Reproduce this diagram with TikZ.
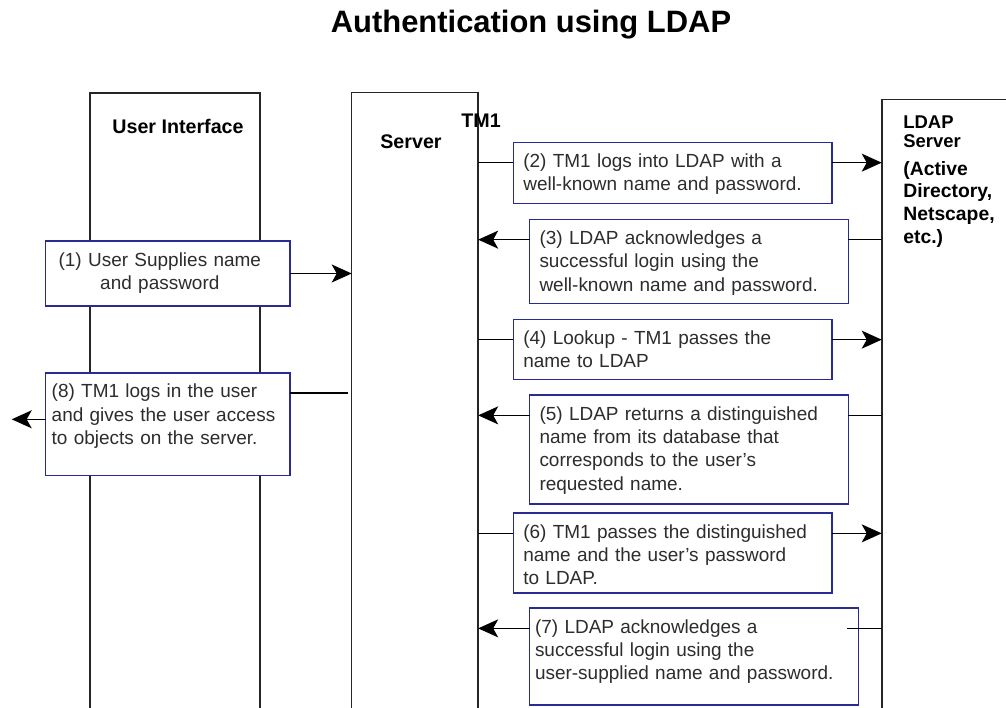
\documentclass[tikz,border=0pt]{standalone}
\usepackage{fontspec}
\setmainfont{Liberation Sans}
\usetikzlibrary{arrows.meta,calc,positioning}
\definecolor{msgblue}{RGB}{42,42,148}
\definecolor{lanegray}{RGB}{38,38,38}
\definecolor{msgtext}{RGB}{45,45,45}
\tikzset{
    lane/.style={rectangle, draw=lanegray, line width=0.9pt, anchor=north west, inner sep=0pt, outer sep=0pt},
    lanelabel/.style={font=\fontsize{11.2}{13}\selectfont\bfseries, inner sep=0pt, anchor=base west},
    msg/.style={rectangle, draw=msgblue, line width=0.9pt, fill=white, anchor=north west, align=left,
        inner ysep=0pt, inner xsep=0.2cm, outer sep=0pt, text width=5.98cm, text height=0.5cm,
        text=msgtext, font=\fontsize{10.8}{13.3}\selectfont},
    flow/.style={->, line width=0.8pt},
    plain/.style={line width=0.8pt}
}

\begin{document}
\begin{tikzpicture}[x=0.02cm, y=-0.02cm, >={Stealth[length=0.4cm,width=0.36cm,inset=0.1cm]}]
  \useasboundingbox (0,0) rectangle (1006,707);

  \node[font=\fontsize{17.6}{20}\selectfont\bfseries, anchor=base, inner sep=0pt] (title) at (531,32) {Authentication using LDAP};

  % lanes
  \node[lane, minimum width=3.4cm, minimum height=13cm]  (ui)   at (90,93)     {};
  \node[lane, minimum width=2.53cm, minimum height=13cm] (srv)  at (351.7,92.7) {};
  \node[lane, minimum width=3cm, minimum height=13cm]    (ldap) at (881.7,99.3) {};

  \node[lanelabel, anchor=base] (uilabel)  at (178,133)   {User Interface};
  \node[lanelabel]              (tmlabel)  at (461,127.5) {TM1};
  \node[lanelabel]              (srvlabel) at (380,148.3) {Server};
  \node[lanelabel, align=left, text width=2cm, font=\fontsize{10.5}{11}\selectfont\bfseries] (ldaplabel) at (903,128.3) {LDAP\\Server};
  \node[lanelabel, align=left, text width=2cm, font=\fontsize{11}{13}\selectfont\bfseries]   (ldapkind)  at (903,175)   {(Active\\Directory,\\Netscape,\\etc.)};

  % messages
  \node[msg, align=center, text width=4.486cm, text depth=0.8cm] (m1) at (45.7,241)
    {\hspace*{-0.32cm}(1) User Supplies name\\\hspace*{-0.32cm}and password};
  \node[msg, text depth=0.72cm] (m2) at (513.3,142.3)
    {(2) TM1 logs into LDAP with a\\well-known name and password.};
  \node[msg, text depth=1.18cm] (m3) at (529.5,219.3)
    {(3) LDAP acknowledges a\\successful login using the\\well-known name and password.};
  \node[msg, text depth=0.7cm] (m4) at (513.3,319.3)
    {(4) Lookup - TM1 passes the\\name to LDAP};
  \node[msg, text depth=1.68cm] (m5) at (529.5,395)
    {(5) LDAP returns a distinguished\\name from its database that\\corresponds to the user's\\requested name.};
  \node[msg, text depth=1.1cm] (m6) at (513.3,513)
    {(6) TM1 passes the distinguished\\name and the user's password\\to LDAP.};
  \node[msg, inner xsep=0.11cm, text width=6.36cm, text depth=1.44cm] (m7) at (529.5,608)
    {(7) LDAP acknowledges a\\successful login using the\\user-supplied name and password.};
  \node[msg, inner xsep=0.12cm, text width=4.646cm, text depth=1.56cm] (m8) at (45.7,372.7)
    {(8) TM1 logs in the user\\and gives the user access\\to objects on the server.};

  % connectors
  \draw[flow]  (m1.east) -- (m1.east -| srv.west);
  \draw[plain] (srv.east |- m2.mid west) -- (m2.mid west);
  \draw[flow]  (m2.mid east) -- (m2.mid east -| ldap.west);
  \draw[plain] (ldap.west |- m3.mid east) -- (m3.mid east);
  \draw[flow]  (m3.mid west) -- (m3.mid west -| srv.east);
  \draw[plain] (srv.east |- m4.mid west) -- (m4.mid west);
  \draw[flow]  (m4.mid east) -- (m4.mid east -| ldap.west);
  \draw[plain] (ldap.west |- m5.mid east) -- (m5.mid east);
  \draw[flow]  (m5.mid west) -- (m5.mid west -| srv.east);
  \draw[plain] (srv.east |- m6.mid west) -- (m6.mid west);
  \draw[flow]  (m6.mid east) -- (m6.mid east -| ldap.west);
  \draw[plain] (ldap.west |- m7.mid east) -- ([xshift=-0.22cm]m7.mid east);
  \draw[flow]  (m7.mid west) -- (m7.mid west -| srv.east);
  \draw[plain] ([xshift=-0.08cm]srv.west |- m8.mid east) -- (m8.mid east);
  \coordinate (exit) at (11.7,419.3);
  \draw[flow]  (m8.west |- exit) -- (exit);
\end{tikzpicture}
\end{document}
